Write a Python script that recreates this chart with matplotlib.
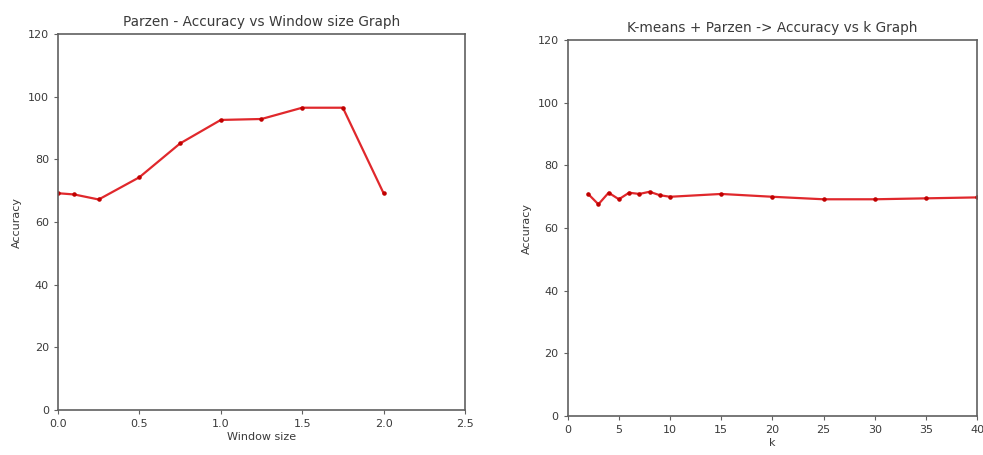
"""Parzen window accuracy plots: window size sweep and k-means + Parzen sweep."""
import matplotlib
matplotlib.use("Agg")
import matplotlib.pyplot as plt

window_sizes = [0.0, 0.1, 0.25, 0.5, 0.75, 1.0, 1.25, 1.5, 1.75, 2.0]
parzen_acc = [69.2, 68.8, 67.2, 74.3, 85.1, 92.6, 92.9, 96.5, 96.5, 69.2]

k_values = [2, 3, 4, 5, 6, 7, 8, 9, 10, 15, 20, 25, 30, 35, 40]
kmeans_acc = [70.9, 67.6, 71.3, 69.2, 71.3, 70.9, 71.6, 70.5, 70.0, 70.9, 70.0, 69.2, 69.2, 69.5, 69.8]

LINE_COLOR = "#e0282c"
TEXT_COLOR = "#3a3a3a"
SPINE_COLOR = "#606060"


def style_axes(ax):
    for s in ax.spines.values():
        s.set_color(SPINE_COLOR)
        s.set_linewidth(1.2)
    ax.tick_params(colors=TEXT_COLOR, labelsize=8, length=3, color=SPINE_COLOR)


fig = plt.figure(figsize=(9.83, 4.55), dpi=100)
ax1 = fig.add_axes([0.059, 0.099, 0.414, 0.826])
ax2 = fig.add_axes([0.5775, 0.0857, 0.4165, 0.826])

ax1.plot(window_sizes, parzen_acc, color=LINE_COLOR, linewidth=1.6,
         marker=".", markersize=4.5, markerfacecolor="#c00000", markeredgecolor="#c00000")
ax1.set_xlim(0, 2.5)
ax1.set_ylim(0, 120)
ax1.set_title("Parzen - Accuracy vs Window size Graph", fontsize=9.8, color=TEXT_COLOR)
ax1.set_xlabel("Window size", fontsize=8, color=TEXT_COLOR, labelpad=2)
ax1.set_ylabel("Accuracy", fontsize=8, color=TEXT_COLOR)
style_axes(ax1)

ax2.plot(k_values, kmeans_acc, color=LINE_COLOR, linewidth=1.6,
         marker=".", markersize=4.5, markerfacecolor="#c00000", markeredgecolor="#c00000")
ax2.set_xlim(0, 40)
ax2.set_ylim(0, 120)
ax2.set_title("K-means + Parzen -> Accuracy vs k Graph", fontsize=9.8, color=TEXT_COLOR)
ax2.set_xlabel("k", fontsize=8, color=TEXT_COLOR, labelpad=2)
ax2.set_ylabel("Accuracy", fontsize=8, color=TEXT_COLOR)
style_axes(ax2)

fig.savefig("out.png", dpi=100)
